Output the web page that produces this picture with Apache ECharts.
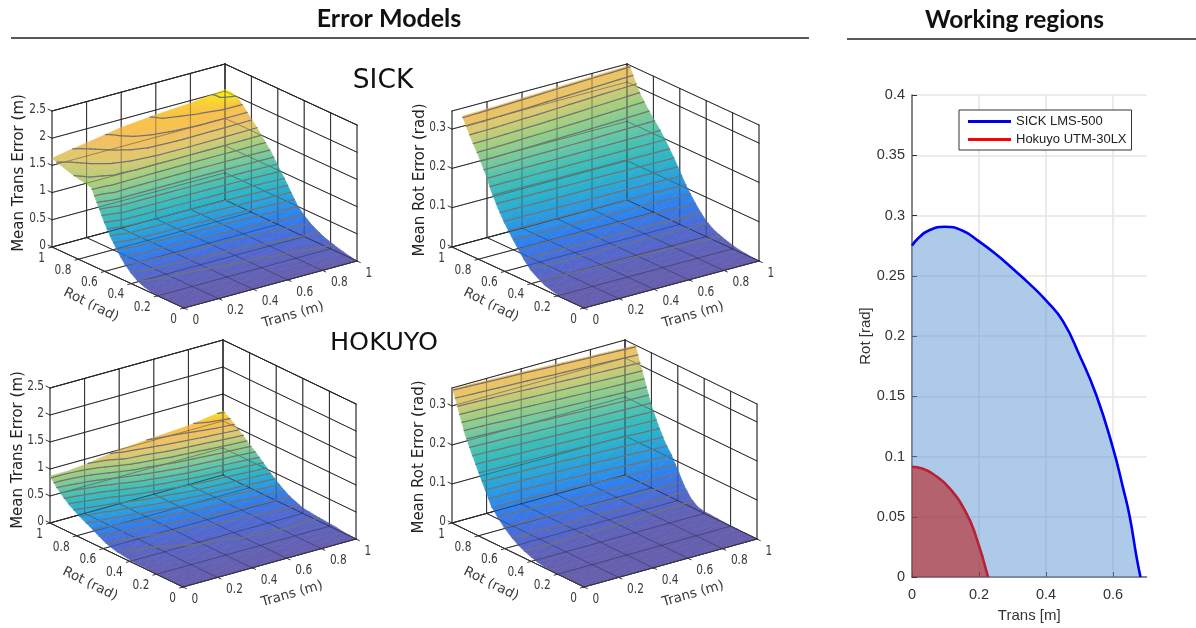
<!DOCTYPE html>
<html><head><meta charset="utf-8">
<style>html,body{margin:0;padding:0;background:#fff}#c{width:1196px;height:628px}</style>
<script src="https://cdn.jsdelivr.net/npm/echarts@6/dist/echarts.min.js"></script>
</head><body><div id="c"></div>
<script>
// ---- data ----
const transGrid=[0,.1,.2,.4,.6,.8,1];
const rotGrid=[0,.05,.1,.15,.2,.25,.3,.35,.4,.45,.5,.55,.6,.65,.7,.75,.8,.85,.9,.95,1];
const tickValues=[0,.2,.4,.6,.8,1];
const transZTicks=[0,.5,1,1.5,2,2.5];
const rotZTicks=[0,.1,.2,.3];
const sickTransErr=[
[0,0,0,0,.01,.02,.05,.10,.19,.31,.47,.66,.88,1.15,1.42,1.46,1.48,1.51,1.55,1.59,1.63],
[0,0,0,.01,.02,.04,.08,.14,.23,.36,.54,.76,1.02,1.27,1.46,1.50,1.55,1.59,1.62,1.65,1.69],
[0,0,.01,.02,.03,.05,.09,.15,.25,.38,.56,.78,1.02,1.25,1.45,1.54,1.61,1.65,1.68,1.71,1.74],
[0,.01,.02,.03,.05,.08,.12,.18,.27,.40,.58,.79,1.02,1.24,1.44,1.59,1.70,1.76,1.80,1.83,1.85],
[0,.01,.03,.05,.07,.10,.15,.21,.30,.43,.61,.81,1.03,1.24,1.43,1.60,1.73,1.81,1.87,1.90,1.91],
[0,.01,.04,.06,.09,.13,.18,.25,.34,.46,.65,.85,1.05,1.25,1.43,1.59,1.72,1.84,1.91,1.94,1.95],
[0,.02,.05,.08,.12,.16,.22,.29,.39,.51,.70,.90,1.08,1.27,1.42,1.58,1.71,1.85,1.98,2.03,2.03]];
const sickRotErr=[
[0,0,0,0,.003,.007,.012,.022,.033,.051,.073,.097,.122,.152,.187,.229,.264,.295,.33,.365,.40],
[0,0,0,.001,.003,.007,.013,.022,.034,.051,.073,.098,.123,.153,.187,.227,.262,.293,.327,.362,.397],
[0,0,.001,.001,.004,.008,.014,.023,.035,.052,.073,.098,.124,.155,.188,.225,.258,.290,.323,.358,.393],
[0,0,.001,.002,.005,.009,.015,.024,.035,.052,.074,.099,.126,.157,.189,.223,.252,.283,.314,.349,.384],
[0,.001,.002,.003,.006,.010,.016,.024,.036,.053,.075,.100,.128,.159,.190,.221,.247,.275,.304,.339,.375],
[0,.001,.002,.004,.007,.012,.018,.026,.038,.055,.077,.102,.131,.162,.191,.219,.242,.267,.294,.329,.367],
[0,.001,.003,.005,.009,.014,.020,.028,.040,.058,.080,.105,.135,.165,.192,.217,.238,.260,.285,.320,.360]];
const hokuyoTransErr=[
[0,0,0,0,.01,.01,.02,.02,.03,.05,.07,.10,.15,.22,.29,.35,.42,.50,.60,.72,.87],
[0,0,0,.01,.01,.02,.03,.04,.05,.06,.08,.12,.17,.24,.31,.38,.46,.54,.64,.75,.87],
[0,0,.01,.01,.02,.03,.04,.05,.06,.07,.10,.14,.19,.26,.34,.42,.50,.59,.69,.79,.90],
[0,0,.01,.02,.03,.04,.05,.07,.08,.10,.13,.18,.25,.33,.42,.52,.62,.72,.83,.93,1.0],
[0,0,.01,.02,.03,.05,.07,.08,.09,.12,.16,.22,.30,.39,.50,.60,.71,.81,.91,.99,1.05],
[0,.01,.02,.03,.04,.06,.08,.10,.11,.14,.18,.25,.33,.43,.54,.65,.76,.86,.96,1.04,1.09],
[0,.01,.02,.04,.05,.06,.07,.085,.10,.15,.20,.28,.37,.47,.59,.70,.80,.91,1.01,1.11,1.185]];
const hokuyoRotErr=[
[0,0,0,0,.001,.002,.003,.006,.011,.018,.026,.038,.052,.070,.091,.128,.165,.203,.243,.297,.35],
[0,0,0,0,.001,.002,.003,.006,.011,.018,.026,.038,.053,.071,.093,.130,.168,.207,.249,.304,.358],
[0,0,0,0,.001,.002,.003,.006,.011,.018,.026,.039,.054,.073,.096,.133,.172,.212,.256,.311,.366],
[0,0,0,.001,.001,.002,.003,.005,.010,.017,.026,.040,.058,.080,.104,.140,.180,.225,.272,.326,.382],
[0,0,0,.001,.001,.002,.003,.005,.009,.015,.025,.042,.064,.090,.115,.150,.190,.238,.288,.344,.400],
[0,0,0,.001,.001,.002,.003,.004,.007,.012,.024,.044,.071,.100,.125,.160,.200,.252,.304,.362,.420],
[0,0,0,.001,.001,.002,.003,.004,.005,.009,.022,.045,.078,.110,.135,.170,.210,.265,.320,.380,.44]];
const sickRegionTrans=[0,.02,.05,.0977,.15,.2,.25,.3,.35,.4,.45,.5,.55,.6,.63,.65,.67,.682];
const sickRegionRot=[.275,.2815,.2875,.2907,.2875,.2785,.268,.256,.2435,.2295,.2125,.184,.151,.107,.074,.05,.017,0];
const hokuyoRegionTrans=[0,.03,.0628,.1126,.1625,.19,.227];
const hokuyoRegionRot=[.0915,.09,.0855,.0736,.0528,.0345,0];
const regionXTicks=[0,.2,.4,.6];

// ---- colour ramp (surface shading) ----
const ramp=[[0,'#665fae'],[.1,'#4d6bd6'],[.2,'#2f80ee'],[.3,'#2a9be3'],[.4,'#2bb3cc'],[.5,'#3fbfb6'],
[.6,'#6ec8a0'],[.7,'#a0cf80'],[.8,'#e0c870'],[.88,'#f5bf5c'],[.95,'#f9c43e'],[1,'#f6ee1c']];
function hex(c){return [1,3,5].map(i=>parseInt(c.substr(i,2),16));}
function colorAt(f){f=Math.max(0,Math.min(1,f));
 for(let i=1;i<ramp.length;i++){if(f<=ramp[i][0]){const a=ramp[i-1],b=ramp[i],u=(f-a[0])/(b[0]-a[0]),A=hex(a[1]),B=hex(b[1]);
  return 'rgb('+A.map((v,k)=>Math.round(v+(B[k]-v)*u)).join(',')+')';}}
 return ramp[ramp.length-1][1];}

// ---- panel layouts ----
const panels=[
{o:[184,308],tv:[173,-47],rv:[-132,-61],h:136,top:2.5,cap:2.5,cmax:2.03,data:sickTransErr,zt:transZTicks,step:.1,name:'Mean Trans Error (m)',nameAt:[19,173]},
{o:[584,308],tv:[175,-47],rv:[-132,-61],h:136,top:.346,cap:.345,cmax:.395,data:sickRotErr,zt:rotZTicks,step:.018,name:'Mean Rot Error (rad)',nameAt:[420,180]},
{o:[183,587],tv:[173,-48],rv:[-133,-64],h:135,top:2.5,cap:2.5,cmax:1.185,data:hokuyoTransErr,zt:transZTicks,step:.065,name:'Mean Trans Error (m)',nameAt:[18,450]},
{o:[584,587],tv:[173,-48],rv:[-132,-64],h:135,top:.346,cap:.345,cmax:.395,data:hokuyoRotErr,zt:rotZTicks,step:.018,name:'Mean Rot Error (rad)',nameAt:[419,457]}];

const FRAME='#333';
const grids=[],xAxes=[],yAxes=[],series=[];
const lineSeries=(g,segs,color,width)=>({type:'custom',xAxisIndex:g,yAxisIndex:g,silent:true,animation:false,clip:false,
 data:segs,renderItem(p,api){const a=api.coord([api.value(0),api.value(1)]),b=api.coord([api.value(2),api.value(3)]);
  return {type:'line',shape:{x1:a[0],y1:a[1],x2:b[0],y2:b[1]},style:{stroke:color,lineWidth:width,lineCap:'round'}};}});

panels.forEach((P,g)=>{
 grids.push({left:P.o[0]-150,top:P.o[1]-260,width:350,height:300,outerBoundsMode:'none',show:false});
 xAxes.push({type:'value',gridIndex:g,min:-150,max:200,show:false});
 yAxes.push({type:'value',gridIndex:g,min:-260,max:40,inverse:true,show:false});
 const pr=(t,r,z)=>[P.tv[0]*t+P.rv[0]*r,P.tv[1]*t+P.rv[1]*r-P.h*z/P.top];
 const seg=(a,b)=>[...pr(...a),...pr(...b)];
 // back walls and floor
 const back=[];
 const zl=P.zt.concat([P.top]);
 tickValues.forEach(v=>{
  back.push(seg([v,0,0],[v,1,0]));back.push(seg([0,v,0],[1,v,0]));
  back.push(seg([v,1,0],[v,1,P.top]));back.push(seg([1,v,0],[1,v,P.top]));
 });
 zl.forEach(z=>{back.push(seg([0,1,z],[1,1,z]));back.push(seg([1,0,z],[1,1,z]));});
 series.push(lineSeries(g,back,FRAME,1));
 // surface facets, each shaded along its own height slope
 const tris=[];
 for(let j=rotGrid.length-2;j>=0;j--)for(let i=transGrid.length-2;i>=0;i--){
  const v=[[i,j],[i+1,j],[i+1,j+1],[i,j+1]].map(([a,b])=>({t:transGrid[a],r:rotGrid[b],z:P.data[a][b]}));
  [[v[0],v[2],v[3]],[v[0],v[1],v[2]]].forEach(tri=>{
   let poly=[];
   for(let k=0;k<3;k++){const A=tri[k],B=tri[(k+1)%3];
    if(A.z<=P.cap)poly.push(A);
    if((A.z<=P.cap)!==(B.z<=P.cap)){const u=(P.cap-A.z)/(B.z-A.z);poly.push({t:A.t+(B.t-A.t)*u,r:A.r+(B.r-A.r)*u,z:P.cap});}
   }
   if(poly.length<3)return;
   const s=tri.map(q=>pr(q.t,q.r,q.z)),zs=tri.map(q=>q.z);
   const D=(s[1][0]-s[0][0])*(s[2][1]-s[0][1])-(s[2][0]-s[0][0])*(s[1][1]-s[0][1]);
   const gx=((zs[1]-zs[0])*(s[2][1]-s[0][1])-(zs[2]-zs[0])*(s[1][1]-s[0][1]))/D;
   const gy=((s[1][0]-s[0][0])*(zs[2]-zs[0])-(s[2][0]-s[0][0])*(zs[1]-zs[0]))/D;
   const n=gx*gx+gy*gy,lo=Math.min(...zs),hi=Math.max(...zs);
   const rec={pts:poly.map(q=>pr(q.t,q.r,q.z)),solid:null};
   if(hi-lo<1e-9||n<1e-14){rec.solid=colorAt(lo/P.cmax);}
   else{
    rec.a=[s[0][0]+gx*(lo-zs[0])/n,s[0][1]+gy*(lo-zs[0])/n];
    rec.b=[s[0][0]+gx*(hi-zs[0])/n,s[0][1]+gy*(hi-zs[0])/n];
    rec.stops=[0,.25,.5,.75,1].map(o=>({offset:o,color:colorAt((lo+(hi-lo)*o)/P.cmax)}));
   }
   tris.push(rec);
  });
 }
 series.push({type:'custom',xAxisIndex:g,yAxisIndex:g,silent:true,animation:false,clip:false,
  data:tris.map(q=>q.pts[0]),
  renderItem(p,api){const q=tris[p.dataIndex];let fill=q.solid;
   if(!fill){const A=api.coord(q.a),B=api.coord(q.b);fill={type:'linear',global:true,x:A[0],y:A[1],x2:B[0],y2:B[1],colorStops:q.stops};}
   return {type:'polygon',shape:{points:q.pts.map(c=>api.coord(c))},style:{fill:fill,stroke:fill,lineWidth:.7}};}});
 // grid seen through the translucent surface
 series.push(lineSeries(g,back,'rgba(30,30,40,.38)',1));
 // contours
 const cont=[];
 for(let L=P.step;L<P.cap;L+=P.step){
  for(let i=0;i<transGrid.length-1;i++)for(let j=0;j<rotGrid.length-1;j++){
   const c=[[i,j],[i+1,j],[i+1,j+1],[i,j+1]].map(([a,b])=>[transGrid[a],rotGrid[b],P.data[a][b]]);
   [[c[0],c[2],c[3]],[c[0],c[1],c[2]]].forEach(tri=>{
    const x=[];
    for(let k=0;k<3;k++){const A=tri[k],B=tri[(k+1)%3];
     if((A[2]>=L)!==(B[2]>=L)){const u=(L-A[2])/(B[2]-A[2]);x.push(pr(A[0]+(B[0]-A[0])*u,A[1]+(B[1]-A[1])*u,L));}}
    if(x.length===2)cont.push([...x[0],...x[1]]);
   });
  }
 }
 series.push(lineSeries(g,cont,'#737373',1.25));
 // front edges and ticks
 const front=[seg([0,0,0],[1,0,0]),seg([0,0,0],[0,1,0])];
 tickValues.forEach(v=>{front.push(seg([v,0,0],[v,-.025,0]));front.push(seg([0,v,0],[-.02,v,0]));});
 P.zt.forEach(z=>front.push(seg([0,1,z],[0,1.03,z])));
 series.push(lineSeries(g,front,FRAME,1));
 // labels
 const labels=[];
 const TF='"DejaVu Sans Condensed","DejaVu Sans"',TC='#3a3a3a';
 tickValues.forEach(v=>{
  const a=pr(v,0,0);labels.push({at:a,dx:8.5,dy:12,text:String(v),size:14.5,align:'left',font:TF,sx:.81});
  const b=pr(0,v,0);labels.push({at:b,dx:-7,dy:11,text:String(v),size:14.5,align:'right',font:TF,sx:.81});
 });
 P.zt.forEach(z=>{const a=pr(0,1,z);labels.push({at:a,dx:-6,dy:-2,text:String(z),size:14.5,align:'right',font:TF,sx:.81});});
 const t0=pr(0,0,0);
 labels.push({at:t0,dx:109,dy:7,text:'Trans (m)',size:13.5,align:'center',font:'"DejaVu Sans"',rot:.28});
 labels.push({at:t0,dx:-93,dy:-3,text:'Rot (rad)',size:13.5,align:'center',font:'"DejaVu Sans"',rot:-.46});
 labels.push({at:[P.nameAt[0]-P.o[0],P.nameAt[1]-P.o[1]],dx:0,dy:0,text:P.name,size:15,align:'center',font:'"DejaVu Sans"',rot:Math.PI/2,color:'#222'});
 series.push({type:'custom',xAxisIndex:g,yAxisIndex:g,silent:true,animation:false,clip:false,data:labels.map(l=>l.at),
  renderItem(p,api){const l=labels[p.dataIndex];const c=api.coord(l.at);
   return {type:'text',x:c[0]+l.dx,y:c[1]+l.dy,rotation:l.rot||0,scaleX:l.sx||1,style:{text:l.text,fill:l.color||TC,fontSize:l.size,fontFamily:l.font,align:l.align,verticalAlign:'middle'}};}});
});

// working regions panel
const wg=panels.length;
grids.push({left:912,top:95,width:234.5,height:482,outerBoundsMode:'none',show:false});
const gridLine={show:true,lineStyle:{color:'#e4e4e4',width:1.5}};
const regLabel={color:'#333',fontSize:14.5,fontFamily:'"Liberation Sans",Arial,sans-serif'};
xAxes.push({type:'value',gridIndex:wg,min:0,max:.7,name:'Trans [m]',nameLocation:'middle',nameGap:31,
 nameTextStyle:{color:'#333',fontSize:15,fontFamily:regLabel.fontFamily},
 axisLine:{lineStyle:{color:'#666',width:1.5}},axisTick:{inside:true,length:5,lineStyle:{color:'#333'},customValues:regionXTicks},
 axisLabel:Object.assign({customValues:regionXTicks,margin:10},regLabel),splitLine:gridLine});
yAxes.push({type:'value',gridIndex:wg,min:0,max:.4,interval:.05,name:'Rot [rad]',nameLocation:'middle',nameGap:39,
 nameTextStyle:{color:'#333',fontSize:15,fontFamily:regLabel.fontFamily},
 axisLine:{show:true,lineStyle:{color:'#666',width:1.5}},axisTick:{show:true,inside:true,length:5,lineStyle:{color:'#333'}},
 axisLabel:Object.assign({margin:7,padding:[3,0,0,0]},regLabel),splitLine:gridLine});
const zip=(a,b)=>a.map((v,i)=>[v,b[i]]);
series.push({type:'line',name:'SICK LMS-500',xAxisIndex:wg,yAxisIndex:wg,data:zip(sickRegionTrans,sickRegionRot),smooth:.5,symbol:'none',silent:true,animation:false,
 lineStyle:{color:'#0000f0',width:2.6},itemStyle:{color:'#0000f0'},areaStyle:{color:'rgba(91,151,209,.5)',opacity:1}});
series.push({type:'line',name:'Hokuyo UTM-30LX',xAxisIndex:wg,yAxisIndex:wg,data:zip(hokuyoRegionTrans,hokuyoRegionRot),smooth:.5,symbol:'none',silent:true,animation:false,
 lineStyle:{color:'#b92036',width:2.6},itemStyle:{color:'#ff0000'},areaStyle:{color:'rgba(186,28,30,.6)',opacity:1}});

const chart=echarts.init(document.getElementById('c'),null,{renderer:'canvas'});
chart.setOption({
 animation:false,backgroundColor:'#fff',
 title:[
  {text:'Error Models',left:389,top:6,padding:0,textAlign:'center',textStyle:{fontFamily:'Lato',fontWeight:'bold',fontSize:25,color:'#111'}},
  {text:'Working regions',left:1014.5,top:8,padding:0,textAlign:'center',textStyle:{fontFamily:'Lato',fontWeight:'bold',fontSize:24.5,color:'#111'}},
  {text:'SICK',left:383,top:68,padding:0,textAlign:'center',textStyle:{fontFamily:'"DejaVu Sans"',fontWeight:'normal',fontSize:26.5,color:'#111'}},
  {text:'HOKUYO',left:384,top:330,padding:0,textAlign:'center',textStyle:{fontFamily:'"DejaVu Sans"',fontWeight:'normal',fontSize:25.5,color:'#111'}}
 ],
 legend:{data:[{name:'SICK LMS-500',icon:'rect',itemStyle:{color:'#0000f0'}},{name:'Hokuyo UTM-30LX',icon:'rect',itemStyle:{color:'#ff0000'}}],
  left:959,top:110,orient:'vertical',itemWidth:43,itemHeight:3,itemGap:5,padding:[5,5,4,9],
  borderColor:'#333',borderWidth:1,backgroundColor:'#fff',selectedMode:false,
  textStyle:{fontFamily:'"Liberation Sans",Arial,sans-serif',fontSize:13,color:'#222'}},
 graphic:[
  {type:'line',shape:{x1:11,y1:38,x2:809,y2:38},style:{stroke:'#222',lineWidth:1.5}},
  {type:'line',shape:{x1:847,y1:39,x2:1196,y2:39},style:{stroke:'#222',lineWidth:1.5}}
 ],
 grid:grids,xAxis:xAxes,yAxis:yAxes,series:series
});
</script></body></html>
